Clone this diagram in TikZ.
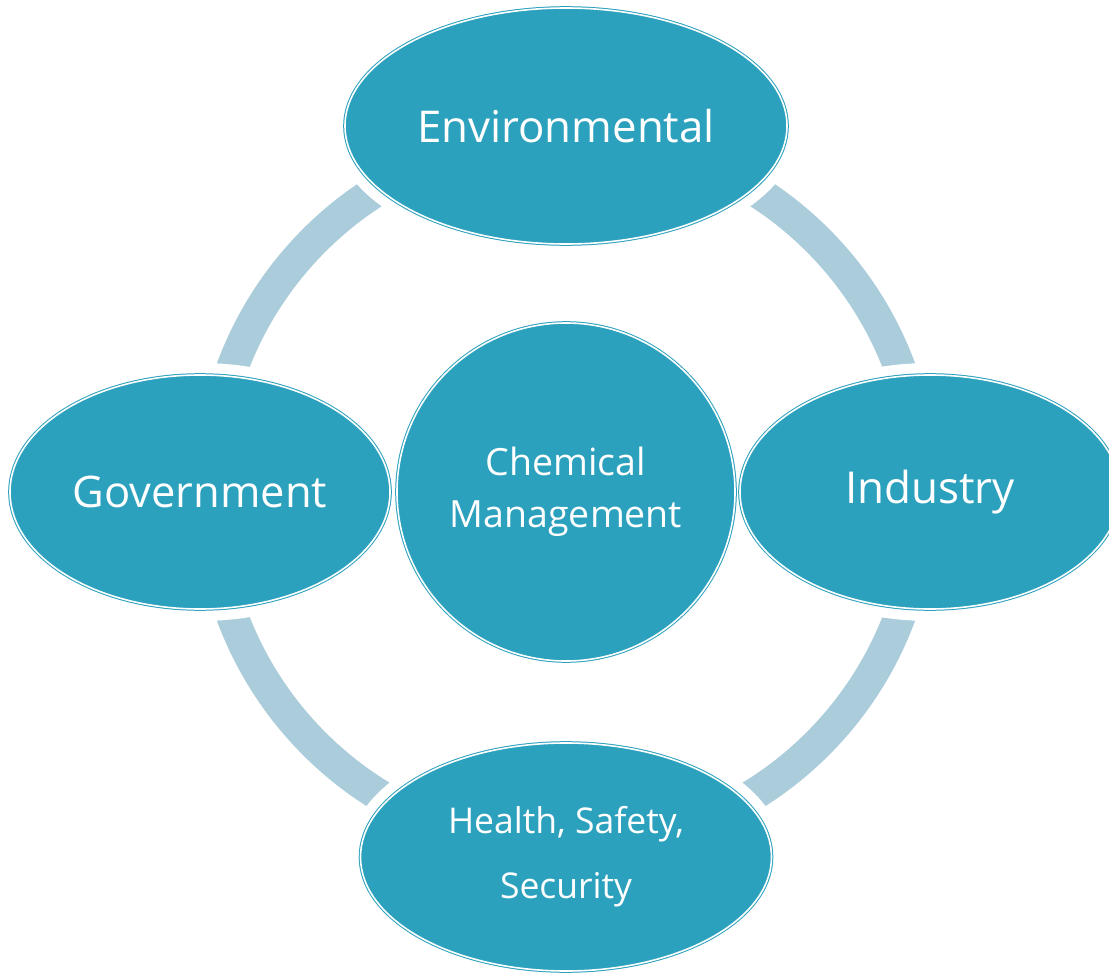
\documentclass[tikz,border=0pt]{standalone}
\usepackage{fontspec}
\setmainfont{Open Sans}
\usetikzlibrary{shapes.geometric}
\definecolor{bubble}{HTML}{2CA1BD}
\definecolor{ringc}{HTML}{ABCDDB}
\pgfdeclarelayer{background}
\pgfsetlayers{background,main}
\begin{document}
\begin{tikzpicture}[x=1pt,y=-1pt,
  bub/.style={ellipse, fill=bubble, draw=bubble, double=white, double distance=1.6pt, line width=1pt,
    text=white, inner sep=0pt, align=center},
  ringline/.style={draw=ringc, line width=32pt},
  halo/.style={draw=white, line width=24pt}]
\useasboundingbox (0,0) rectangle (1109,974);
\node[bub, minimum width=442pt, minimum height=236pt, font=\fontsize{43.8}{50}\selectfont] (env) at (566,126) {Environmental};
\node[bub, minimum width=380pt, minimum height=234pt, font=\fontsize{43.5}{50}\selectfont] (gov) at (200,492) {Government};
\node[bub, minimum width=380pt, minimum height=234pt, font=\fontsize{44}{50}\selectfont] (ind) at (930,492) {Industry};
\node[bub, circle, minimum size=338pt, font=\fontsize{37.5}{52}\selectfont] (chem) at (566,492) {Chemical\\Management};
\node[bub, minimum width=411pt, minimum height=228pt, font=\fontsize{35.5}{65}\selectfont] (hss) at (566,857) {Health, Safety,\\Security};
\begin{pgfonlayer}{background}
\draw[ringline] (chem.center) circle[radius=356];
\draw[halo] (env.center) ellipse[x radius=221, y radius=118];
\draw[halo] (gov.center) ellipse[x radius=190, y radius=117];
\draw[halo] (ind.center) ellipse[x radius=190, y radius=117];
\draw[halo] (hss.center) ellipse[x radius=205.5, y radius=114];
\end{pgfonlayer}
\end{tikzpicture}
\end{document}
